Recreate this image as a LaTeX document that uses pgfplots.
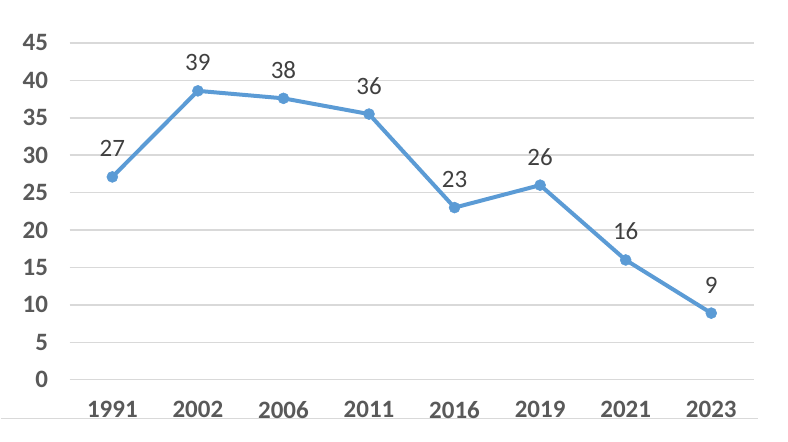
\documentclass[border=0pt]{standalone}
\usepackage{pgfplots}
\pgfplotsset{compat=1.18}
\usepackage{pgfplotstable}
\usepackage{fontspec}
\setmainfont{Carlito}
\definecolor{lineblue}{HTML}{5B9BD5}
\definecolor{gridgray}{HTML}{D9D9D9}
\definecolor{ticktext}{HTML}{595959}
\definecolor{labeltext}{HTML}{404040}
\pgfplotstableread{
x y lab
0 27.1 27
1 38.6 39
2 37.6 38
3 35.5 36
4 23.0 23
5 26.0 26
6 16.0 16
7 8.9 9
}\data
\begin{document}
\begin{tikzpicture}[x=1pt,y=1pt]
\path (0,0) rectangle (788,442);
\draw[gridgray, line width=1.2pt] (0,23) -- (758,23);
\begin{axis}[
  at={(69pt,62pt)}, anchor=south west,
  scale only axis, width=685pt, height=337pt,
  xmin=-0.5, xmax=7.5, ymin=0, ymax=45,
  xtick=data, xticklabels={1991,2002,2006,2011,2016,2019,2021,2023},
  ytick={0,5,...,45},
  axis line style={draw=none},
  tick style={draw=none},
  ymajorgrids, grid style={gridgray, line width=1.5pt},
  /pgf/number format/assume math mode=true,
  ticklabel style={font=\fontsize{25}{28}\selectfont\bfseries, text=ticktext},
  yticklabel style={xshift=-18pt},
  xticklabel style={yshift=-18pt},
  nodes near coords,
  point meta=explicit symbolic,
  nodes near coords style={font=\fontsize{25}{28}\selectfont, text=labeltext, anchor=base, yshift=20pt},
  clip=false,
]
\addplot[lineblue, line width=4pt, mark=*, mark size=5.5pt, mark options={solid, fill=lineblue, draw=lineblue, line width=0.5pt}]
  table[x=x, y=y, meta=lab] {\data};
\end{axis}
\end{tikzpicture}
\end{document}
